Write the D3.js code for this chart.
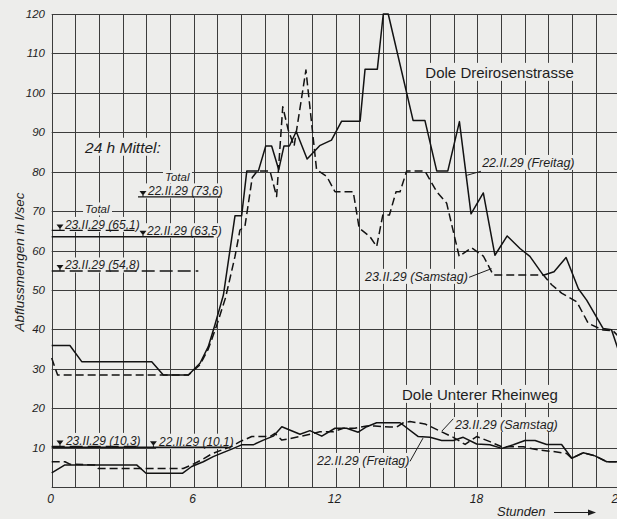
<!DOCTYPE html>
<html><head><meta charset="utf-8">
<script src="https://cdn.jsdelivr.net/npm/d3@7"></script>
<style>
html,body{margin:0;padding:0;background:#ededeb;}
svg{display:block;}
text{font-family:"Liberation Sans",Arial,sans-serif;fill:#1e1e1e;}
</style></head><body>
<svg id="c" width="617" height="519"></svg>
<script>
// ---------- data ----------
const hourTicks = [0, 6, 12, 18, 24];
const valueTicks = [10, 20, 30, 40, 50, 60, 70, 80, 90, 100, 110, 120];

// Dole Dreirosenstrasse, 22.II.29 (Freitag) — solid
const dreiFreitagHours = [0, 0.77, 1.27, 4.23, 4.72, 5.78, 6.27, 6.62, 6.9, 7.26, 7.75, 8.03, 8.25, 8.74, 9.05, 9.3, 9.6, 9.82, 10.05, 10.34, 10.8, 11.33, 11.83, 12.26, 13.04, 13.25, 13.77, 14.02, 14.23, 15.28, 15.78, 16.28, 16.75, 17.24, 17.73, 18.25, 18.74, 19.26, 19.8, 20.22, 20.79, 21.24, 21.75, 22.27, 22.62, 23.32, 23.67, 24];
const dreiFreitagValues = [35.9, 35.9, 31.8, 31.8, 28.4, 28.4, 31.4, 35.6, 41.1, 48.7, 68.8, 68.8, 80.2, 80.2, 86.5, 86.5, 80.5, 86.5, 86.5, 90.2, 83.2, 86.6, 88.0, 92.8, 92.8, 106, 106, 120, 120, 93, 93, 80.2, 80.2, 92.7, 69.3, 74.6, 58.8, 63.7, 60.5, 58.5, 53.7, 54.6, 58.2, 50.3, 47.4, 40.2, 39.9, 34];

// Dole Dreirosenstrasse, 23.II.29 (Samstag) — dashed
const dreiSamstagHours = [0, 0.25, 5.78, 6.27, 6.62, 6.95, 7.35, 7.75, 7.96, 8.17, 8.48, 8.7, 9.23, 9.51, 9.77, 10.0, 10.25, 10.75, 11.2, 11.63, 11.98, 12.75, 13.0, 13.46, 13.74, 14.0, 14.28, 14.56, 14.73, 15.01, 15.78, 16.28, 16.7, 17.23, 17.75, 18.25, 18.67, 20.79, 21.14, 21.56, 22.2, 22.69, 23.32, 23.72, 24];
const dreiSamstagValues = [32.7, 28.4, 28.4, 31, 35, 40.5, 48, 58.5, 65.2, 66.1, 78.5, 80.2, 80.2, 73.7, 96.5, 90.6, 86.5, 105.8, 80.5, 78.8, 74.9, 74.9, 65.7, 63.5, 61.0, 69.0, 69.0, 74.9, 74.9, 80.2, 80.2, 74.9, 72.0, 58.5, 60.7, 58.6, 53.8, 53.8, 51.3, 49.2, 47.0, 41.5, 39.8, 39.7, 38];

// Dole Unterer Rheinweg, 22.II.29 (Freitag) — solid
const rheinFreitagHours = [0, 0.56, 3.59, 3.99, 5.54, 5.92, 6.41, 6.83, 7.19, 7.61, 8.03, 8.52, 8.95, 9.37, 9.73, 10.5, 10.92, 11.42, 11.98, 12.47, 12.96, 13.32, 13.74, 14.73, 15.5, 16.0, 16.49, 16.98, 17.4, 17.97, 18.53, 19.03, 19.52, 20.01, 20.44, 20.93, 21.56, 21.99, 22.48, 22.97, 23.47, 24];
const rheinFreitagValues = [3.6, 5.6, 5.6, 3.5, 3.5, 5.2, 6.4, 7.7, 8.6, 9.6, 10.7, 10.7, 11.9, 12.9, 15.3, 13.4, 14.3, 12.9, 14.9, 14.9, 13.9, 15.3, 16.3, 16.3, 12.8, 12.6, 11.8, 11.8, 12.6, 10.9, 10.7, 9.8, 10.7, 11.8, 11.8, 10.8, 10.8, 7.3, 8.7, 7.9, 6.4, 6.4];

// Dole Unterer Rheinweg, 23.II.29 (Samstag) — dashed
const rheinSamstagHours = [0, 0.56, 0.77, 1.83, 1.97, 5.56, 5.92, 6.34, 6.77, 7.19, 7.61, 7.96, 8.46, 9.23, 9.44, 9.73, 10.5, 11.34, 11.9, 12.33, 12.82, 13.32, 13.67, 14.3, 14.59, 14.87, 15.15, 15.78, 16.49, 16.98, 17.48, 17.97, 18.53, 19.03, 19.94, 20.58, 21.2, 21.77, 21.99, 22.48, 22.97, 23.47, 24];
const rheinSamstagValues = [6.4, 6.4, 5.8, 5.6, 4.7, 4.7, 5.6, 6.9, 8.4, 9.4, 10.3, 11.5, 12.8, 12.8, 13.6, 11.9, 12.8, 14.0, 14.0, 14.9, 14.9, 15.5, 15.5, 15.2, 15.2, 16.3, 16.6, 16.0, 14.0, 12.6, 10.8, 12.8, 11.5, 10.2, 10.2, 9.4, 9.0, 8.5, 7.3, 8.7, 7.9, 6.4, 6.4];

// 24 h Mittel (daily means)
const meanValues  = [73.6, 65.1, 63.5, 54.8, 10.3, 10.1];
const meanDays    = ["22.II.29", "23.II.29", "22.II.29", "23.II.29", "23.II.29", "22.II.29"];
const meanText    = ["73,6", "65,1", "63,5", "54,8", "10,3", "10,1"];
const meanDashed  = [false, true, false, true, true, false];
const meanFrom    = [3.65, 0, 0, 0, 0, 0];
const meanTo      = [7.15, 3.5, 6.85, 6.2, 3.6, 7.45];
const meanMarkAt  = [3.86, 0.35, 3.86, 0.35, 0.35, 4.3];
const meanLabelAt = [4.07, 0.56, 4.03, 0.56, 0.6, 4.54];

// ---------- drawing ----------
const W = 617, H = 519;
const x = d3.scaleLinear().domain([0, 24]).range([51.7, 619.3]);
const y = d3.scaleLinear().domain([0, 120]).range([487, 14]);
const crisp = v => Math.round(v) + 0.5;

const svg = d3.select("#c");
const BG = "#ededeb";
svg.append("rect").attr("width", W).attr("height", H).attr("fill", BG);

const gGrid = svg.append("g");
const gBg = svg.append("g");
const gLines = svg.append("g");
const gText = svg.append("g");

// grid
const hours = d3.range(0, 25);
gGrid.selectAll("line.v").data(hours).join("line")
  .attr("x1", d => crisp(x(d))).attr("x2", d => crisp(x(d)))
  .attr("y1", y(0)).attr("y2", y(120))
  .attr("stroke", "#3c3c3c").attr("stroke-width", 1);
gGrid.selectAll("line.h").data(d3.range(0, 121, 10)).join("line")
  .attr("y1", d => crisp(y(d))).attr("y2", d => crisp(y(d)))
  .attr("x1", x(0)).attr("x2", x(24))
  .attr("stroke", "#3c3c3c").attr("stroke-width", 1);

// axis tick labels
gText.selectAll("text.yt").data(valueTicks).join("text")
  .attr("x", 45).attr("y", d => y(d) + 4)
  .attr("text-anchor", "end").attr("font-size", 11.5).attr("font-style", "italic")
  .text(d => d);
gText.selectAll("text.xt").data(hourTicks).join("text")
  .attr("x", d => x(d) - 1).attr("y", 503)
  .attr("text-anchor", "middle").attr("font-size", 12).attr("font-style", "italic")
  .text(d => d);

// axis titles
gText.append("text")
  .attr("transform", "translate(24,262) rotate(-90)")
  .attr("text-anchor", "middle").attr("font-size", 13.5).attr("font-style", "italic")
  .text("Abflussmengen in l/sec");
gText.append("text").attr("x", 497).attr("y", 516)
  .attr("font-size", 13).attr("font-style", "italic").text("Stunden");
gLines.append("line").attr("x1", 554).attr("x2", 594).attr("y1", 512.5).attr("y2", 512.5)
  .attr("stroke", "#1e1e1e").attr("stroke-width", 1);
gLines.append("path").attr("d", "M588,509.5 L596,512.5 L588,515.5 Z").attr("fill", "#1e1e1e");

// label helper with background box
function label(tx, ty, str, size, italic, anchor) {
  const t = gText.append("text").attr("x", tx).attr("y", ty)
    .attr("font-size", size).attr("font-style", italic ? "italic" : "normal")
    .attr("text-anchor", anchor || "start").text(str);
  const b = t.node().getBBox();
  gBg.append("rect").attr("x", b.x - 2).attr("y", b.y - 1)
    .attr("width", b.width + 4).attr("height", b.height + 1).attr("fill", BG);
  return t;
}

// series lines
const line = d3.line().x(d => x(d[0])).y(d => y(d[1]));
const series = [
  [dreiFreitagHours, dreiFreitagValues, false],
  [dreiSamstagHours, dreiSamstagValues, true],
  [rheinFreitagHours, rheinFreitagValues, false],
  [rheinSamstagHours, rheinSamstagValues, true]
];

// text labels
label(x(1.41), y(84.8), "24 h Mittel:", 15.5, true);
label(x(4.79), y(77.6), "Total", 11.5, true);
label(x(1.41), y(69.4), "Total", 11.5, true);
meanValues.forEach((m, i) => {
  label(x(meanLabelAt[i]), y(m) - 1.5, meanDays[i] + " (" + meanText[i] + ")", 12, true);
});
label(x(15.8), y(103.8), "Dole Dreirosenstrasse", 15, false);
label(x(14.81), y(22.1), "Dole Unterer Rheinweg", 15, false);
label(x(18.2), y(81.2), "22.II.29 (Freitag)", 12.5, true);
label(x(13.25), y(52.3), "23.II.29 (Samstag)", 12.5, true);
label(x(17.05), y(14.7), "23.II.29 (Samstag)", 12.5, true);
label(x(11.22), y(5.6), "22.II.29 (Freitag)", 12.5, true);

// mean lines + markers
meanValues.forEach((m, i) => {
  gLines.append("line")
    .attr("x1", x(meanFrom[i])).attr("x2", x(meanTo[i]))
    .attr("y1", y(m)).attr("y2", y(m))
    .attr("stroke", "#151515").attr("stroke-width", 1.4)
    .attr("stroke-dasharray", meanDashed[i] ? "13,5" : null);
  const mx = x(meanMarkAt[i]), my = y(m);
  gLines.append("path")
    .attr("d", `M${mx - 3.5},${my - 6} L${mx + 3.5},${my - 6} L${mx},${my - 1.5} Z`)
    .attr("fill", "#151515");
  gLines.append("line").attr("x1", mx).attr("x2", mx).attr("y1", my - 2).attr("y2", my)
    .attr("stroke", "#151515").attr("stroke-width", 1);
});

series.forEach(([hs, vs, dashed]) => {
  gLines.append("path").datum(hs.map((h, i) => [h, vs[i]]))
    .attr("d", line).attr("fill", "none")
    .attr("stroke", "#121212").attr("stroke-width", 1.5)
    .attr("stroke-linejoin", "round")
    .attr("stroke-dasharray", dashed ? "8,4" : null);
});

// leader lines (in data coordinates)
const leaders = [
  [[18.15, 80.1], [17.57, 79.1]],
  [[17.65, 53.2], [18.6, 55.4]],
  [[16.98, 17.3], [16.5, 14.2]],
  [[15.15, 6.5], [15.7, 12.4]]
];
leaders.forEach(p => {
  gLines.append("path").attr("d", line(p)).attr("fill", "none")
    .attr("stroke", "#1e1e1e").attr("stroke-width", 1);
});
</script>
</body></html>
